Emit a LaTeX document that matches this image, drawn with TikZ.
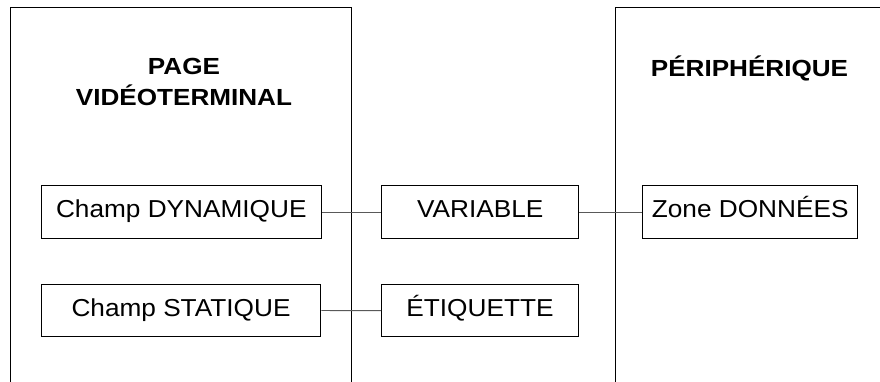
\documentclass[tikz,border=0pt]{standalone}
\usepackage{fontspec}
\setmainfont{Liberation Sans}[FakeStretch=1.07]
\newfontfamily\titlefont{Liberation Sans}[FakeStretch=1.12]
\begin{document}
\begin{tikzpicture}[x=1pt,y=-1pt,
  panel/.style={line width=1pt,draw=black},
  field/.style={draw=black,line width=1pt,inner sep=0pt,
    minimum height=52pt,text height=17.7pt,text depth=6.3pt,
    font=\fontsize{24.5}{29}\selectfont},
  heading/.style={anchor=base,inner sep=0pt,
    font=\titlefont\bfseries\fontsize{23.3}{28}\selectfont},
  link/.style={draw=black!65,line width=0.9pt}]
  \useasboundingbox (0,0) rectangle (880,382);
  % the two open panels
  \draw[panel] (10.7,382) -- (10.7,7.3) -- (351.7,7.3) -- (351.7,382);
  \draw[panel] (615,382) -- (615,7.3) -- (880,7.3);
  % headings
  \node[heading] (h1) at (184,75) {PAGE};
  \node[heading] (h2) at (184,105.7) {VIDÉOTERMINAL};
  \node[heading] (h3) at (749.5,76.7) {PÉRIPHÉRIQUE};
  % fields
  \node[field,minimum width=279.5pt] (dyn) at (181.3,212) {Champ DYNAMIQUE};
  \node[field,minimum width=279.5pt] (stat) at (181,310.3) {Champ STATIQUE};
  \node[field,minimum width=197pt] (var) at (480.3,212) {VARIABLE};
  \node[field,minimum width=197pt] (etiq) at (480,310.8) {ÉTIQUETTE};
  \node[field,minimum width=215pt] (zone) at (750.2,212) {Zone DONNÉES};
  % connectors
  \draw[link] (dyn) -- (var);
  \draw[link] (var) -- (zone);
  \draw[link] (stat) -- (etiq);
\end{tikzpicture}
\end{document}
